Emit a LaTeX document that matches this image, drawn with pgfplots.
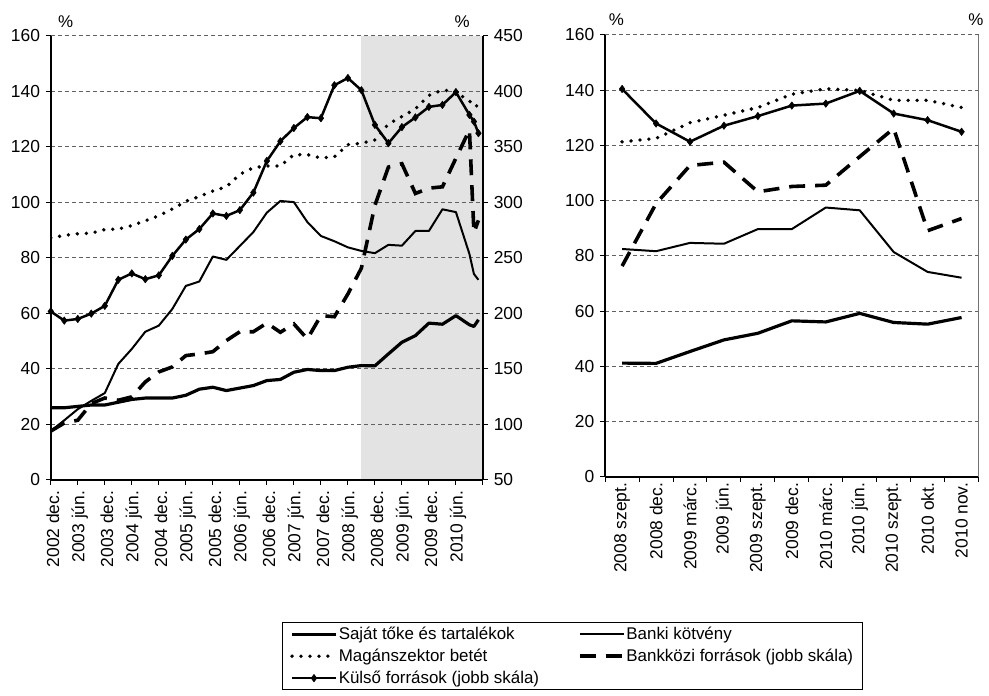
\documentclass[border=0pt]{standalone}
\usepackage{fontspec}
\setmainfont{Liberation Sans}
\usepackage{pgfplots}
\pgfplotsset{compat=1.18}
\pgfplotsset{
  basestyle/.style={
    scale only axis,
    /pgf/number format/assume math mode=true,
    tick label style={font=\fontsize{17.5bp}{20bp}\selectfont},
    tick align=outside,
    major tick length=5bp,
    tick style={black, line width=1bp},
    axis line style={-, black, line width=1.6bp},
  },
  gridstyle/.style={ymajorgrids, major grid style={black!62, dash pattern=on 4bp off 3bp, line width=0.9bp}},
  sajat/.style={black, line width=3.2bp, line join=round},
  banki/.style={black, line width=2bp, line join=round},
  magan/.style={black, line width=3.8bp, line cap=round, dash pattern=on 0bp off 9bp},
  bankkozi/.style={black, line width=3.6bp, dash pattern=on 16bp off 10bp},
  kulso/.style={black, line width=2.5bp, line join=round, mark=diamond*, mark size=3.8bp, mark options={solid, fill=black, line width=0.5bp}},
}
\begin{document}
\fontsize{17bp}{20bp}\selectfont
\begin{tikzpicture}[x=1bp,y=1bp]
% ---------------- left chart, left scale ----------------
\begin{axis}[basestyle, gridstyle, set layers,
  at={(51bp,216bp)}, anchor=south west, width=434bp, height=446bp,
  xmin=0, xmax=96, ymin=0, ymax=160,
  axis x line*=bottom, axis y line*=left,
  xtick={0,6,...,96},
  xticklabels={2002 dec.,2003 jún.,2003 dec.,2004 jún.,2004 dec.,2005 jún.,2005 dec.,2006 jún.,2006 dec.,2007 jún.,2007 dec.,2008 jún.,2008 dec.,2009 jún.,2009 dec.,2010 jún.,{}},
  xticklabel style={xshift=2bp, rotate=90, anchor=east},
  ytick={0,20,...,160},
  legend columns=2,
  legend cell align=left,
  legend image code/.code={\draw[mark repeat=2,mark phase=2,#1] plot coordinates {(0bp,0bp) (22bp,0bp) (44bp,0bp)};},
  legend style={at={(0.5346,-0.3206)}, anchor=north west, draw=black, line width=0.8bp,
    font=\fontsize{17bp}{20bp}\selectfont, inner xsep=8bp, inner ysep=3bp,
    nodes={inner sep=1bp}, row sep=5bp,
    /tikz/every even column/.append style={column sep=38bp}},
]
\begin{pgfonlayer}{axis background}
\fill[black!11] (axis cs:69,0) rectangle (axis cs:96,160);
\end{pgfonlayer}
\addlegendimage{sajat}\addlegendentry{Saját tőke és tartalékok}
\addlegendimage{banki}\addlegendentry{Banki kötvény}
\addlegendimage{magan}\addlegendentry{Magánszektor betét}
\addlegendimage{bankkozi}\addlegendentry{Bankközi források (jobb skála)}
\addlegendimage{kulso}\addlegendentry{Külső források (jobb skála)}
\addplot[sajat, forget plot] coordinates {(0,26)(3,26)(6,26.5)(9,27)(12,27)(15,28)(18,29)(21,29.5)(24,29.5)(27,29.5)(30,30.5)(33,32.7)(36,33.4)(39,32.2)(42,33.1)(45,34)(48,35.8)(51,36.2)(54,38.8)(57,39.8)(60,39.4)(63,39.4)(66,40.6)(69,41.2)(72,41.1)(75,45.4)(78,49.6)(81,52)(84,56.5)(87,56.1)(90,59.2)(93,55.9)(94,55.3)(95,57.7)};
\addplot[banki, forget plot] coordinates {(0,17.6)(3,21.5)(6,25.5)(9,28.5)(12,31.3)(15,41.8)(18,47.2)(21,53.4)(24,55.6)(27,61.6)(30,69.9)(33,71.5)(36,80.5)(39,79.3)(42,84.3)(45,89.3)(48,96.3)(51,100.5)(54,100.1)(57,92.9)(60,87.9)(63,86)(66,83.8)(69,82.5)(72,81.7)(75,84.7)(78,84.4)(81,89.7)(84,89.7)(87,97.5)(90,96.5)(93,81.4)(94,74.2)(95,72.1)};
\addplot[magan, forget plot] coordinates {(0,87.2)(3,88.1)(6,88.7)(9,88.9)(12,90.2)(15,90.4)(18,91.6)(21,93.4)(24,95.2)(27,97.6)(30,100.4)(33,102.1)(36,104.1)(39,105.6)(42,110.1)(45,112.5)(48,113.1)(51,113.1)(54,117.2)(57,117.2)(60,116)(63,116.4)(66,120.8)(69,121.3)(72,122.5)(75,128.2)(78,130.9)(81,133.7)(84,138.5)(87,140.5)(90,139.9)(93,136.3)(94,136.3)(95,133.7)};
\end{axis}
% ---------------- left chart, right scale ----------------
\begin{axis}[basestyle,
  at={(51bp,216bp)}, anchor=south west, width=434bp, height=446bp,
  xmin=0, xmax=96, ymin=50, ymax=450,
  axis x line=none, axis y line*=right,
  ytick={50,100,...,450},
]
\addplot[bankkozi] coordinates {(0,94)(3,101.3)(6,103.8)(9,118.8)(12,123.8)(15,121.8)(18,124.8)(21,138.3)(24,147.3)(27,151.8)(30,162)(33,163.5)(36,165.5)(39,175.5)(42,183.5)(45,183.5)(48,191.3)(51,183)(54,190.5)(57,177)(60,198)(63,197)(66,217.5)(69,240.8)(72,297.3)(75,331.8)(78,334.8)(81,308)(84,312.8)(87,314)(90,339.8)(93,365.3)(94,272.8)(95,283.8)};
\addplot[kulso] coordinates {(0,201.8)(3,193.5)(6,195)(9,199.8)(12,206.8)(15,230.3)(18,236)(21,230.8)(24,234.3)(27,251.8)(30,266.5)(33,276)(36,290)(39,287.8)(42,293)(45,308.8)(48,337.3)(51,355)(54,367)(57,376.8)(60,375.8)(63,405.5)(66,412)(69,401)(72,369.8)(75,353.3)(78,367.8)(81,376.5)(84,386)(87,387.8)(90,399.3)(93,378.8)(94,372.8)(95,362.3)};
\end{axis}
% ---------------- right chart, left scale ----------------
\begin{axis}[basestyle, gridstyle,
  at={(607.7bp,219bp)}, anchor=south west, width=375bp, height=444bp,
  xmin=-0.5, xmax=10.5, ymin=0, ymax=160,
  axis x line*=bottom, axis y line*=left,
  xtick={-0.5,0.5,...,10.5}, xticklabels={},
  extra x ticks={0,1,...,10},
  extra x tick labels={2008 szept.,2008 dec.,2009 márc.,2009 jún.,2009 szept.,2009 dec.,2010 márc.,2010 jún.,2010 szept.,2010 okt.,2010 nov.},
  extra x tick style={major tick length=0bp, xticklabel style={rotate=90, anchor=east}},
  ytick={0,20,...,160},
]
\addplot[sajat] coordinates {(0,41.2)(1,41.1)(2,45.4)(3,49.6)(4,52)(5,56.5)(6,56.1)(7,59.2)(8,55.9)(9,55.3)(10,57.7)};
\addplot[banki] coordinates {(0,82.5)(1,81.7)(2,84.7)(3,84.4)(4,89.7)(5,89.7)(6,97.5)(7,96.5)(8,81.4)(9,74.2)(10,72.1)};
\addplot[magan] coordinates {(0,121.3)(1,122.5)(2,128.2)(3,130.9)(4,133.7)(5,138.5)(6,140.5)(7,139.9)(8,136.3)(9,136.3)(10,133.7)};
\end{axis}
% ---------------- right chart, right scale ----------------
\begin{axis}[basestyle,
  at={(607.7bp,219bp)}, anchor=south west, width=375bp, height=444bp,
  xmin=-0.5, xmax=10.5, ymin=50, ymax=450,
  axis x line=none, axis y line*=right, ytick=\empty,
  axis line style={-, black!55, line width=1bp},
]
\addplot[bankkozi] coordinates {(0,240.8)(1,297.3)(2,331.8)(3,334.8)(4,308)(5,312.8)(6,314)(7,339.8)(8,365.3)(9,272.8)(10,283.8)};
\addplot[kulso] coordinates {(0,401)(1,369.8)(2,353.3)(3,367.8)(4,376.5)(5,386)(6,387.8)(7,399.3)(8,378.8)(9,372.8)(10,362.3)};
\end{axis}
% percent signs
\node[font=\fontsize{17bp}{20bp}\selectfont] at (66,676) {\%};
\node[font=\fontsize{17bp}{20bp}\selectfont] at (464,676) {\%};
\node[font=\fontsize{17bp}{20bp}\selectfont] at (619,678) {\%};
\node[font=\fontsize{17bp}{20bp}\selectfont] at (980,678) {\%};
\path (0,0) rectangle (989,698);
\end{tikzpicture}
\end{document}
